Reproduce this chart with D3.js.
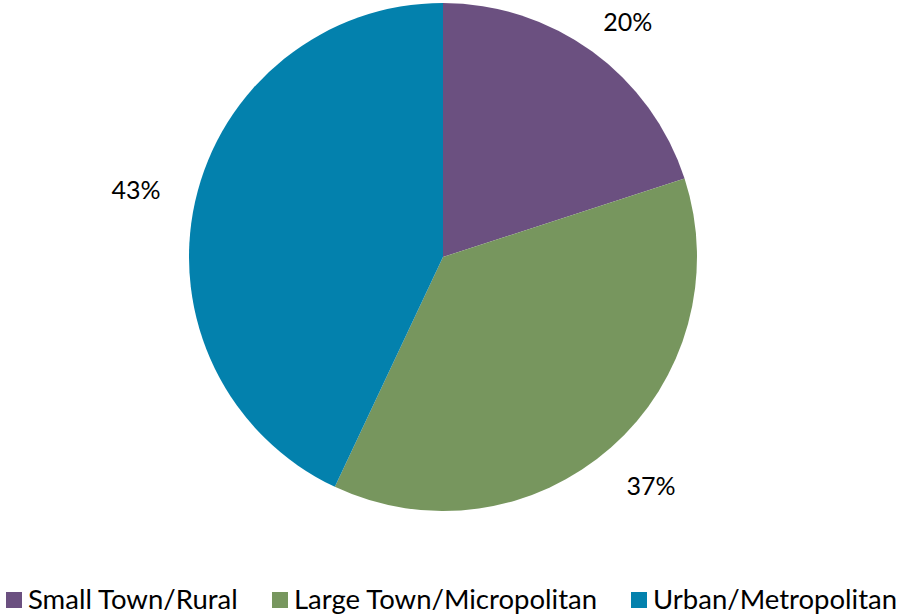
<!DOCTYPE html>
<html>
<head>
<meta charset="utf-8">
<script src="https://cdn.jsdelivr.net/npm/d3@7"></script>
<style>
  body { margin: 0; background: #fff; }
  text { font-family: Lato, "Open Sans", sans-serif; fill: #000; }
</style>
</head>
<body>
<svg id="chart" width="897" height="615"></svg>
<script>
// data
var categories = ["Small Town/Rural", "Large Town/Micropolitan", "Urban/Metropolitan"];
var shares = [20, 37, 43];
var colors = ["#6B5080", "#77965E", "#0381AD"];

var svg = d3.select("#chart");
var cx = 443, cy = 257, r = 254;

var pie = d3.pie().sort(null).value(function(d) { return d; });
var arcs = pie(shares);
var arc = d3.arc().innerRadius(0).outerRadius(r);

var g = svg.append("g").attr("transform", "translate(" + cx + "," + cy + ")");

g.selectAll("path.slice")
  .data(arcs)
  .enter()
  .append("path")
  .attr("class", "slice")
  .attr("d", arc)
  .attr("fill", function(d, i) { return colors[i]; });

// outside-end labels: push box out along the mid angle, keep inside the svg
var labels = g.selectAll("text.pct")
  .data(arcs)
  .enter()
  .append("text")
  .attr("class", "pct")
  .attr("text-anchor", "middle")
  .attr("dy", "0.35em")
  .style("font-size", "25px")
  .text(function(d) { return d.value + "%"; });

labels.each(function(d) {
  var bb = this.getBBox();
  var a = (d.startAngle + d.endAngle) / 2;
  var ux = Math.sin(a), uy = -Math.cos(a);
  var x = 290 * ux + bb.width / 2 * ux;
  var y = 290 * uy + bb.height / 2 * uy;
  y = Math.max(y, 22 - cy);
  d3.select(this).attr("x", x).attr("y", y);
});

// legend
var legendX = [6, 272, 631];
var legend = svg.selectAll("g.legend")
  .data(categories)
  .enter()
  .append("g")
  .attr("class", "legend")
  .attr("transform", function(d, i) { return "translate(" + legendX[i] + ",592)"; });

legend.append("rect")
  .attr("width", 16)
  .attr("height", 16)
  .attr("fill", function(d, i) { return colors[i]; });

legend.append("text")
  .attr("x", 22)
  .attr("y", 17)
  .style("font-size", "27.5px")
  .text(function(d) { return d; });
</script>
</body>
</html>
